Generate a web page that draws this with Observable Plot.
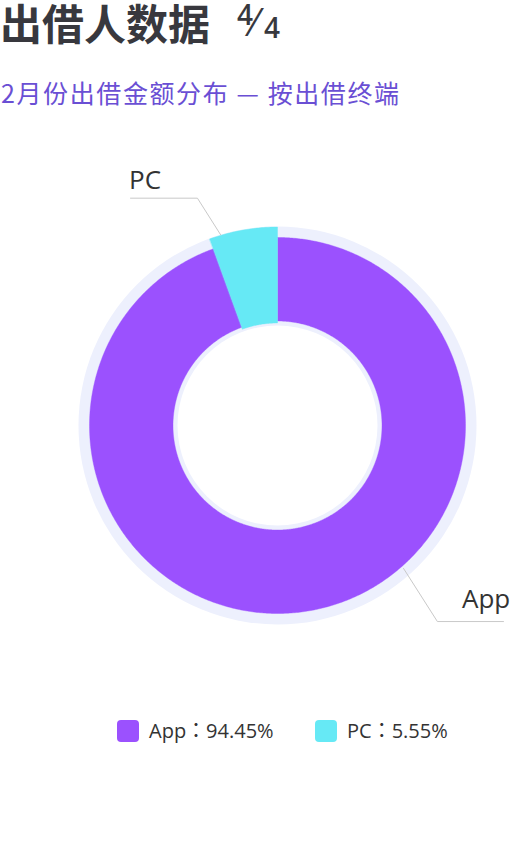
<!DOCTYPE html>
<html><head><meta charset="utf-8">
<script src="https://cdn.jsdelivr.net/npm/d3@7"></script>
<script src="https://cdn.jsdelivr.net/npm/@observablehq/plot@0.6"></script>
<style>
html,body{margin:0;padding:0;background:#fff;}
body{width:512px;height:858px;overflow:hidden;position:relative;}
#chart{position:absolute;left:0;top:0;}
.abs{position:absolute;white-space:nowrap;line-height:1;}
#title{left:0;top:1px;font-family:"Noto Sans CJK SC";font-weight:700;font-size:42px;color:#38383E;}
.frac{font-family:"Open Sans";font-weight:600;font-size:28px;color:#38383E;}
.slash{font-family:"Open Sans";font-weight:400;font-size:38px;color:#38383E;}
#subtitle{left:1px;top:79.6px;font-family:"Noto Sans CJK SC";font-size:25px;letter-spacing:1.6px;color:#6A4FD4;}
.legend-item{position:absolute;top:720px;height:22px;display:flex;align-items:flex-start;}
.sw{width:22px;height:22px;border-radius:4px;margin-right:10px;}
.lt{font-family:"Open Sans","Noto Sans CJK TC";font-size:20px;line-height:20px;color:#333;margin-top:0.5px;}
</style></head><body>
<div id="chart"></div>
<div id="title" class="abs"></div>
<div id="subtitle" class="abs"></div>
<div id="legend"></div>
<script>
// ---- data ----
const categories = ["App", "PC"];
const values = [94.45, 5.55];
const colors = ["#9B51FE", "#66E9F5"];
const titleText = "出借人数据";
const pageIndex = "4";
const pageTotal = "4";
const subtitleText = "2月份出借金额分布 — 按出借终端";

// ---- layout (styles / positions, not data) ----
const W = 512, H = 858;
const cx = 277, cy = 425;
const bgOuter = 199, bgInner = 100;
const sliceRadius = {App: [104.5, 188], PC: [102.5, 198.5]};
const labelLayout = {
  App: {anchorR: 190.6, anchorDeg: 138.6, elbowR: 253, elbowDeg: 140.8, endX: 503, textX: 461.5, textDy: -13.5},
  PC:  {anchorR: 199,   anchorDeg: -16.6, elbowR: 241, elbowDeg: -19.4, endX: 130, textX: 128.5, textDy: -9.5}
};
const legendX = [117, 315];

// ---- build geometry from data ----
const table = categories.map((name, i) => ({name, value: values[i]}));
const arcs = d3.pie().sort(null).value(d => d.value).startAngle(0).endAngle(2 * Math.PI)(table);
const pt = (r, a) => ({x: cx + r * Math.sin(a), y: cy - r * Math.cos(a)});
const arcPts = [];
for (const a of arcs) {
  const [ri, ro] = sliceRadius[a.data.name];
  const n = Math.max(2, Math.ceil((a.endAngle - a.startAngle) / (Math.PI / 360)));
  for (let k = 0; k <= n; k++) {
    const t = a.startAngle + (a.endAngle - a.startAngle) * k / n;
    arcPts.push({name: a.data.name, ...pt(ro, t)});
  }
  for (let k = n; k >= 0; k--) {
    const t = a.startAngle + (a.endAngle - a.startAngle) * k / n;
    arcPts.push({name: a.data.name, ...pt(ri, t)});
  }
}
const rad = d => d * Math.PI / 180;
const leaderPts = [];
const labels = [];
for (const name of categories) {
  const L = labelLayout[name];
  const p0 = pt(L.anchorR, rad(L.anchorDeg));
  const p1 = pt(L.elbowR, rad(L.elbowDeg));
  leaderPts.push({name, ...p0}, {name, ...p1}, {name, x: L.endX, y: p1.y});
  labels.push({name, x: L.textX, y: p1.y + L.textDy});
}
const center = [{x: cx, y: cy}];

const chart = Plot.plot({
  width: W, height: H, margin: 0,
  x: {domain: [0, W], range: [0, W], axis: null},
  y: {domain: [0, H], range: [0, H], axis: null},
  color: {domain: categories, range: colors},
  style: {background: "transparent", overflow: "visible"},
  marks: [
    Plot.dot(center, {x: "x", y: "y", r: bgOuter, fill: "#EDF0FD"}),
    Plot.dot(center, {x: "x", y: "y", r: bgInner, fill: "#FFFFFF"}),
    Plot.line(arcPts, {x: "x", y: "y", z: "name", fill: "name", stroke: "name", strokeWidth: 0.4, curve: "linear-closed"}),
    Plot.line(leaderPts, {x: "x", y: "y", z: "name", stroke: "#C9C9C9", strokeWidth: 1}),
    Plot.text(labels, {x: "x", y: "y", text: "name", textAnchor: "start", lineAnchor: "bottom", fontSize: 26, fill: "#333333", fontFamily: "Open Sans"})
  ]
});
document.getElementById("chart").appendChild(chart);

// ---- title / subtitle ----
document.getElementById("title").textContent = titleText;
const fr = (txt, cls, left, top) => {
  const s = document.createElement("div");
  s.className = "abs " + cls; s.textContent = txt;
  s.style.left = left + "px"; s.style.top = top + "px";
  document.body.appendChild(s);
};
fr(pageIndex, "frac", 237, 0);
fr("⁄", "slash", 252, 2);
fr(pageTotal, "frac", 264, 13);
document.getElementById("subtitle").textContent = subtitleText;

// ---- legend ----
const lg = document.getElementById("legend");
categories.forEach((name, i) => {
  const it = document.createElement("div");
  it.className = "legend-item";
  it.style.left = legendX[i] + "px";
  const sw = document.createElement("div");
  sw.className = "sw"; sw.style.background = colors[i];
  const t = document.createElement("div");
  t.className = "lt"; t.textContent = name + "：" + values[i].toFixed(2) + "%";
  it.appendChild(sw); it.appendChild(t);
  lg.appendChild(it);
});
</script>
</body></html>
